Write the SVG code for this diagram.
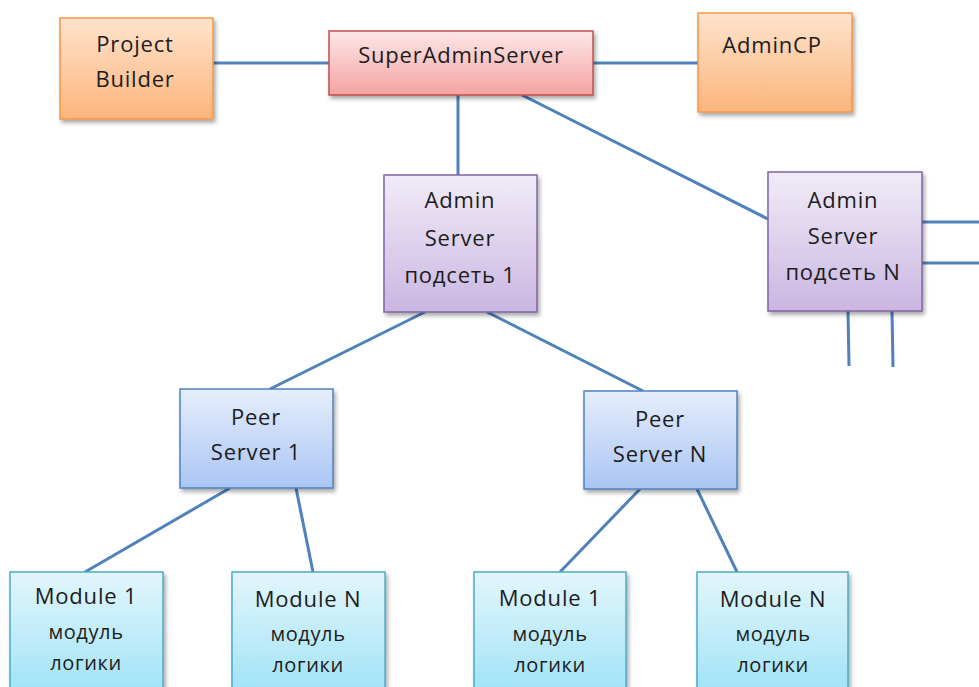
<svg xmlns="http://www.w3.org/2000/svg" width="979" height="687" viewBox="0 0 979 687">
  <defs>
    <linearGradient id="gOrange" x1="0" y1="0" x2="0" y2="1">
      <stop offset="0" stop-color="#fee3cd"/>
      <stop offset="1" stop-color="#fbb57c"/>
    </linearGradient>
    <linearGradient id="gRed" x1="0" y1="0" x2="0" y2="1">
      <stop offset="0" stop-color="#fde7e7"/>
      <stop offset="1" stop-color="#f4a3a2"/>
    </linearGradient>
    <linearGradient id="gPurple" x1="0" y1="0" x2="0" y2="1">
      <stop offset="0" stop-color="#f1ecf7"/>
      <stop offset="1" stop-color="#cab6e2"/>
    </linearGradient>
    <linearGradient id="gBlue" x1="0" y1="0" x2="0" y2="1">
      <stop offset="0" stop-color="#e5eefc"/>
      <stop offset="1" stop-color="#aac5f3"/>
    </linearGradient>
    <linearGradient id="gCyan" x1="0" y1="0" x2="0" y2="1">
      <stop offset="0" stop-color="#e3f6fc"/>
      <stop offset="1" stop-color="#9ee2f6"/>
    </linearGradient>
    <filter id="shadow" x="-10%" y="-10%" width="125%" height="125%">
      <feGaussianBlur in="SourceAlpha" stdDeviation="2"/>
      <feOffset dx="2" dy="3" result="b"/>
      <feComponentTransfer><feFuncA type="linear" slope="0.35"/></feComponentTransfer>
      <feMerge><feMergeNode/><feMergeNode in="SourceGraphic"/></feMerge>
    </filter>
  </defs>
  <style>
    .link { stroke: #4f81bd; stroke-width: 3; fill: none; }
    .box { stroke-width: 1.5; filter: url(#shadow); }
    .orange { fill: url(#gOrange); stroke: #f79646; }
    .red { fill: url(#gRed); stroke: #c0504d; }
    .purple { fill: url(#gPurple); stroke: #8064a2; }
    .blue { fill: url(#gBlue); stroke: #4f81bd; }
    .cyan { fill: url(#gCyan); stroke: #4bacc6; }
    text { font-family: "Open Sans", "Liberation Sans", sans-serif; font-size: 22px; letter-spacing: 0.8px; fill: #1c1c1c; text-anchor: middle; }
    .sm { font-size: 20px; letter-spacing: 0.6px; }
  </style>

  <rect width="979" height="687" fill="#ffffff"/>

  <g id="connectors">
    <line class="link" x1="213" y1="63" x2="329" y2="63"/>
    <line class="link" x1="593" y1="63" x2="698" y2="63"/>
    <line class="link" x1="458" y1="95" x2="458" y2="175"/>
    <line class="link" x1="522" y1="95" x2="768" y2="219"/>
    <line class="link" x1="922" y1="222" x2="979" y2="222"/>
    <line class="link" x1="922" y1="263" x2="979" y2="263"/>
    <line class="link" x1="848" y1="311" x2="849" y2="366"/>
    <line class="link" x1="892" y1="311" x2="893" y2="367"/>
    <line class="link" x1="425" y1="312" x2="270" y2="389"/>
    <line class="link" x1="487" y1="312" x2="643" y2="391"/>
    <line class="link" x1="230" y1="488" x2="85" y2="572"/>
    <line class="link" x1="296" y1="488" x2="313" y2="572"/>
    <line class="link" x1="640" y1="489" x2="560" y2="572"/>
    <line class="link" x1="697" y1="489" x2="737" y2="572"/>
  </g>

  <g id="project-builder">
    <rect class="box orange" x="60" y="18" width="153" height="101"/>
    <text x="135" y="52">Project</text>
    <text x="135" y="87">Builder</text>
  </g>

  <g id="super-admin-server">
    <rect class="box red" x="329" y="31" width="264" height="64"/>
    <text x="461" y="63">SuperAdminServer</text>
  </g>

  <g id="admin-cp">
    <rect class="box orange" x="698" y="13" width="154" height="99"/>
    <text x="772" y="53">AdminCP</text>
  </g>

  <g id="admin-server-1">
    <rect class="box purple" x="384" y="175" width="153" height="137"/>
    <text x="460" y="208">Admin</text>
    <text x="460" y="246">Server</text>
    <text x="460" y="283">подсеть 1</text>
  </g>

  <g id="admin-server-n">
    <rect class="box purple" x="768" y="172" width="154" height="139"/>
    <text x="843" y="208">Admin</text>
    <text x="843" y="244">Server</text>
    <text x="843" y="280">подсеть N</text>
  </g>

  <g id="peer-server-1">
    <rect class="box blue" x="180" y="389" width="153" height="99"/>
    <text x="256" y="425">Peer</text>
    <text x="256" y="460">Server 1</text>
  </g>

  <g id="peer-server-n">
    <rect class="box blue" x="584" y="391" width="153" height="98"/>
    <text x="660" y="427">Peer</text>
    <text x="660" y="462">Server N</text>
  </g>

  <g id="module-1a">
    <rect class="box cyan" x="10" y="572" width="153" height="125"/>
    <text x="86" y="604">Module 1</text>
    <text class="sm" x="86" y="639">модуль</text>
    <text class="sm" x="86" y="670">логики</text>
  </g>

  <g id="module-na">
    <rect class="box cyan" x="232" y="572" width="153" height="125"/>
    <text x="308" y="607">Module N</text>
    <text class="sm" x="308" y="641">модуль</text>
    <text class="sm" x="308" y="672">логики</text>
  </g>

  <g id="module-1b">
    <rect class="box cyan" x="474" y="572" width="152" height="125"/>
    <text x="550" y="606">Module 1</text>
    <text class="sm" x="550" y="641">модуль</text>
    <text class="sm" x="550" y="672">логики</text>
  </g>

  <g id="module-nb">
    <rect class="box cyan" x="697" y="572" width="151" height="125"/>
    <text x="773" y="607">Module N</text>
    <text class="sm" x="773" y="641">модуль</text>
    <text class="sm" x="773" y="672">логики</text>
  </g>
</svg>
